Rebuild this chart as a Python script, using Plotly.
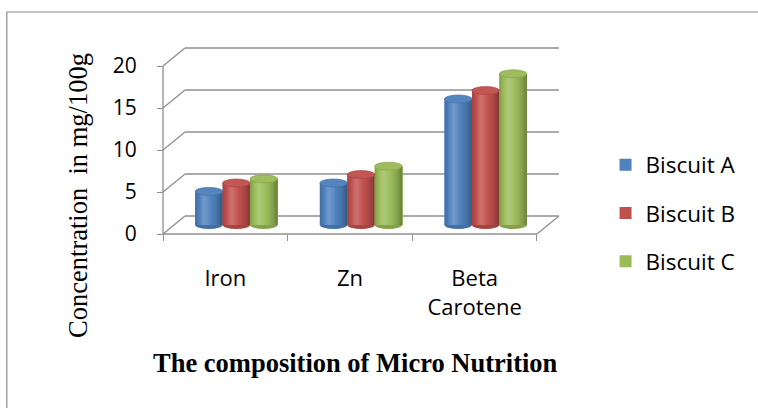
import plotly.graph_objects as go

# ---------------- data ----------------
categories = ["Iron", "Zn", "Beta Carotene"]
category_labels = ["Iron", "Zn", "Beta<br>Carotene"]
series_names = ["Biscuit A", "Biscuit B", "Biscuit C"]
biscuit_a = [4, 5, 15]
biscuit_b = [5, 6, 16]
biscuit_c = [5.5, 7, 18]
y_ticks = [0, 5, 10, 15, 20]
colors = ["#4F81BD", "#C0504D", "#9BBB59"]

series_values = [biscuit_a, biscuit_b, biscuit_c]

# ---------------- geometry (pixels) ----------------
W, H = 758, 408
FRONT_LEFT = 163      # front-left corner of the floor
FRONT_BOTTOM = 234    # front-bottom edge of the floor
U = 124.5             # px per category
V = 8.4               # px per value unit
OX, OY = 11, 9        # half depth offset (mid plane -> back wall)
PAD = 4
YMAX = y_ticks[-1]
ncat = len(categories)

dx, dy = OX / U, OY / V
padx, pady = PAD / U, PAD / V
xr = [-0.5 - dx - padx, ncat - 0.5 + dx + padx]
yr = [-dy - pady, YMAX + dy + pady]
plot_w = (xr[1] - xr[0]) * U
plot_h = (yr[1] - yr[0]) * V
ml = FRONT_LEFT - PAD
mb = H - (FRONT_BOTTOM + PAD)
mr = W - ml - plot_w
mt = H - mb - plot_h


def px_x(px):
    return (px - ml) / plot_w


def px_y(py):
    return (H - mb - py) / plot_h


def hex2rgb(h):
    h = h.lstrip("#")
    return [int(h[i:i + 2], 16) for i in (0, 2, 4)]


def shade(h, m):
    r = hex2rgb(h)
    if m >= 1:
        f = min(1.0, (m - 1) * 1.6)
        r = [c + (255 - c) * f for c in r]
    else:
        r = [c * m for c in r]
    return "rgb(%d,%d,%d)" % tuple(int(round(c)) for c in r)


profile = [(0.0, 0.84), (0.12, 0.97), (0.32, 1.13), (0.5, 1.05), (0.75, 0.92), (1.0, 0.70)]


def prof(t):
    for (t0, m0), (t1, m1) in zip(profile[:-1], profile[1:]):
        if t0 <= t <= t1:
            return m0 + (m1 - m0) * (t - t0) / (t1 - t0)
    return profile[-1][1]


GROUP = 0.66
nser = len(series_names)
bw = GROUP / nser
NSL = 16
E = 4.0 / V  # ellipse half height in value units

fig = go.Figure()
shapes = []

grid_col = "#8f8f8f"
grid_w = 1.3

# back wall gridlines and left wall diagonals
for v in y_ticks:
    shapes.append(dict(type="line", xref="x", yref="y", layer="below",
                       x0=-0.5 - dx, y0=v - dy, x1=-0.5 + dx, y1=v + dy,
                       line=dict(color=grid_col, width=grid_w)))
    shapes.append(dict(type="line", xref="x", yref="y", layer="below",
                       x0=-0.5 + dx, y0=v + dy, x1=ncat - 0.5 + dx, y1=v + dy,
                       line=dict(color=grid_col, width=grid_w)))
# front vertical axis
shapes.append(dict(type="line", xref="x", yref="y", layer="below",
                   x0=-0.5 - dx, y0=-dy, x1=-0.5 - dx, y1=YMAX - dy,
                   line=dict(color=grid_col, width=grid_w)))
# floor front edge and right edge
shapes.append(dict(type="line", xref="x", yref="y", layer="below",
                   x0=-0.5 - dx, y0=-dy, x1=ncat - 0.5 - dx, y1=-dy,
                   line=dict(color=grid_col, width=grid_w)))
shapes.append(dict(type="line", xref="x", yref="y", layer="below",
                   x0=ncat - 0.5 - dx, y0=-dy, x1=ncat - 0.5 + dx, y1=dy,
                   line=dict(color=grid_col, width=grid_w)))

for k, (name, vals, col) in enumerate(zip(series_names, series_values, colors)):
    left = -GROUP / 2 + k * bw
    fig.add_trace(go.Bar(x=categories, y=vals, name=name, legendgroup=name,
                         offset=left, width=bw, marker=dict(color=col, line=dict(width=0)),
                         hoverinfo="skip"))
    for j in range(NSL):
        t = (j + 0.5) / NSL
        fig.add_trace(go.Bar(x=categories, y=vals, showlegend=False, legendgroup=name,
                             offset=left + j * bw / NSL, width=bw - j * bw / NSL,
                             marker=dict(color=shade(col, prof(t)), line=dict(width=0)),
                             hoverinfo="skip"))
    for i, v in enumerate(vals):
        x0 = i + left
        x1 = i + left + bw
        shapes.append(dict(type="circle", xref="x", yref="y", layer="below",
                           x0=x0, x1=x1, y0=-E, y1=E,
                           fillcolor=shade(col, 0.86), line=dict(width=0)))
        shapes.append(dict(type="circle", xref="x", yref="y", layer="above",
                           x0=x0, x1=x1, y0=v - E, y1=v + E,
                           fillcolor=shade(col, 1.02), line=dict(color=shade(col, 0.88), width=0.7)))

# invisible helper traces for the front-plane axes
fig.add_trace(go.Scatter(x=[0], y=[0], xaxis="x2", yaxis="y2", mode="markers",
                         marker=dict(opacity=0), showlegend=False, hoverinfo="skip"))
fig.add_trace(go.Scatter(x=[0], y=[0], xaxis="x3", yaxis="y2", mode="markers",
                         marker=dict(opacity=0), showlegend=False, hoverinfo="skip"))

# outer border
shapes.append(dict(type="rect", xref="paper", yref="paper", layer="below",
                   x0=px_x(7), x1=px_x(W + 5), y0=px_y(12), y1=px_y(H + 5),
                   line=dict(color="#8c8c8c", width=1.2), fillcolor="rgba(0,0,0,0)"))

tick_font = dict(family="Open Sans", size=21, color="black")
cat_font = dict(family="Open Sans", size=22, color="black")

fig.update_layout(
    width=W, height=H,
    margin=dict(l=ml, r=mr, t=mt, b=mb, pad=0),
    paper_bgcolor="white", plot_bgcolor="white",
    barmode="overlay",
    showlegend=True,
    legend=dict(x=px_x(605), xanchor="left", y=px_y(213), yanchor="middle",
                font=dict(family="Open Sans", size=22.5, color="black"),
                traceorder="grouped", tracegroupgap=16, bgcolor="rgba(0,0,0,0)"),
    xaxis=dict(range=xr, showgrid=False, zeroline=False, showline=False,
               showticklabels=False, ticks="", type="category",
               categoryorder="array", categoryarray=categories),
    yaxis=dict(range=yr, showgrid=False, zeroline=False, showline=False,
               showticklabels=False, ticks=""),
    yaxis2=dict(overlaying="y", anchor="free", position=PAD / plot_w, side="left",
                range=[yr[0] + dy, yr[1] + dy], tickmode="array", tickvals=y_ticks,
                ticks="outside", ticklen=6, tickwidth=1.3, tickcolor=grid_col,
                showgrid=False, zeroline=False, showline=False,
                tickfont=tick_font, ticklabelstandoff=16),
    xaxis2=dict(overlaying="x", anchor="free", position=PAD / plot_h, side="bottom",
                range=[xr[0] + dx, xr[1] + dx], tickmode="array",
                tickvals=[i - 0.5 for i in range(ncat + 1)],
                ticks="outside", ticklen=6, tickwidth=1.3, tickcolor=grid_col,
                showticklabels=False, showgrid=False, zeroline=False, showline=False),
    xaxis3=dict(overlaying="x", anchor="free", position=PAD / plot_h, side="bottom",
                range=[xr[0] + dx, xr[1] + dx], tickmode="array",
                tickvals=list(range(ncat)), ticktext=category_labels, ticks="",
                showgrid=False, zeroline=False, showline=False,
                tickfont=cat_font, ticklabelstandoff=29),
    shapes=shapes,
    annotations=[
        dict(text="Concentration\u00a0 in mg/100g", textangle=-90, showarrow=False,
             xref="paper", yref="paper", x=px_x(78), y=px_y(195),
             xanchor="center", yanchor="middle",
             font=dict(family="Liberation Serif", size=26.5, color="black")),
        dict(text="<b>The composition of Micro Nutrition</b>", showarrow=False,
             xref="paper", yref="paper", x=px_x(355), y=px_y(363),
             xanchor="center", yanchor="middle",
             font=dict(family="Liberation Serif", size=26.5, color="black")),
    ],
)

fig.write_html("out.html", config={"displayModeBar": False},
               post_script="document.body.style.margin='0';")
